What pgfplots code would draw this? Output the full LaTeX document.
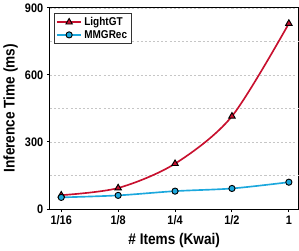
\documentclass[border=0pt]{standalone}
\usepackage{pgfplots}
\pgfplotsset{compat=1.18}
\usepackage{fontspec}
\setmainfont[FakeStretch=0.88]{Liberation Sans}
\definecolor{lred}{HTML}{C8102E}
\definecolor{lblue}{HTML}{1CA8DD}
\begin{document}
\begin{tikzpicture}
\begin{axis}[
  scale only axis,
  width=241pt, height=195pt,
  font=\bfseries\fontsize{12}{14}\selectfont,
  /pgf/number format/assume math mode=true,
  xmin=-0.2, xmax=4.17, ymin=0, ymax=900,
  xtick={0,1,2,3,4}, xticklabels={1/16,1/8,1/4,1/2,1},
  ytick={0,300,600,900},
  extra y ticks={150,450,750}, extra y tick labels={},
  extra y tick style={major tick length=0pt, grid=major,
    major grid style={dash pattern=on 2pt off 2pt, gray!45, line width=0.6pt}},
  ymajorgrids,
  grid style={dash pattern=on 2pt off 2pt, gray!45, line width=0.6pt},
  tick align=outside, major tick length=3pt,
  xtick pos=bottom, ytick pos=left,
  axis line style={line width=0.9pt},
  every tick/.style={black, line width=0.9pt},
  xlabel={\# Items (Kwai)}, ylabel={Inference Time (ms)},
  label style={font=\bfseries\fontsize{15}{17}\selectfont},
  ylabel style={yshift=-3pt},
  xlabel style={yshift=-1pt},
  legend style={at={(0.015,0.975)}, anchor=north west, font=\bfseries\fontsize{11}{13}\selectfont, draw=black!80, line width=0.6pt, row sep=-1pt, inner sep=2pt},
  legend image code/.code={\draw[#1, line width=1.6pt, mark repeat=2, mark phase=2] plot coordinates {(0cm,0cm) (0.42cm,0cm) (0.84cm,0cm)};},
  legend cell align=left,
]
\addplot[lred, line width=1.6pt, smooth, mark=triangle*, mark size=3.6pt, mark options={fill=lred, draw=black, line width=0.9pt}]
  coordinates {(0,62) (1,94) (2,203) (3,415) (4,830)};
\addlegendentry{LightGT}
\addplot[lblue, line width=1.6pt, smooth, mark=*, mark size=3pt, mark options={fill=lblue, draw=black, line width=0.9pt}]
  coordinates {(0,52) (1,61) (2,80) (3,92) (4,120)};
\addlegendentry{MMGRec}
\end{axis}
\end{tikzpicture}
\end{document}
